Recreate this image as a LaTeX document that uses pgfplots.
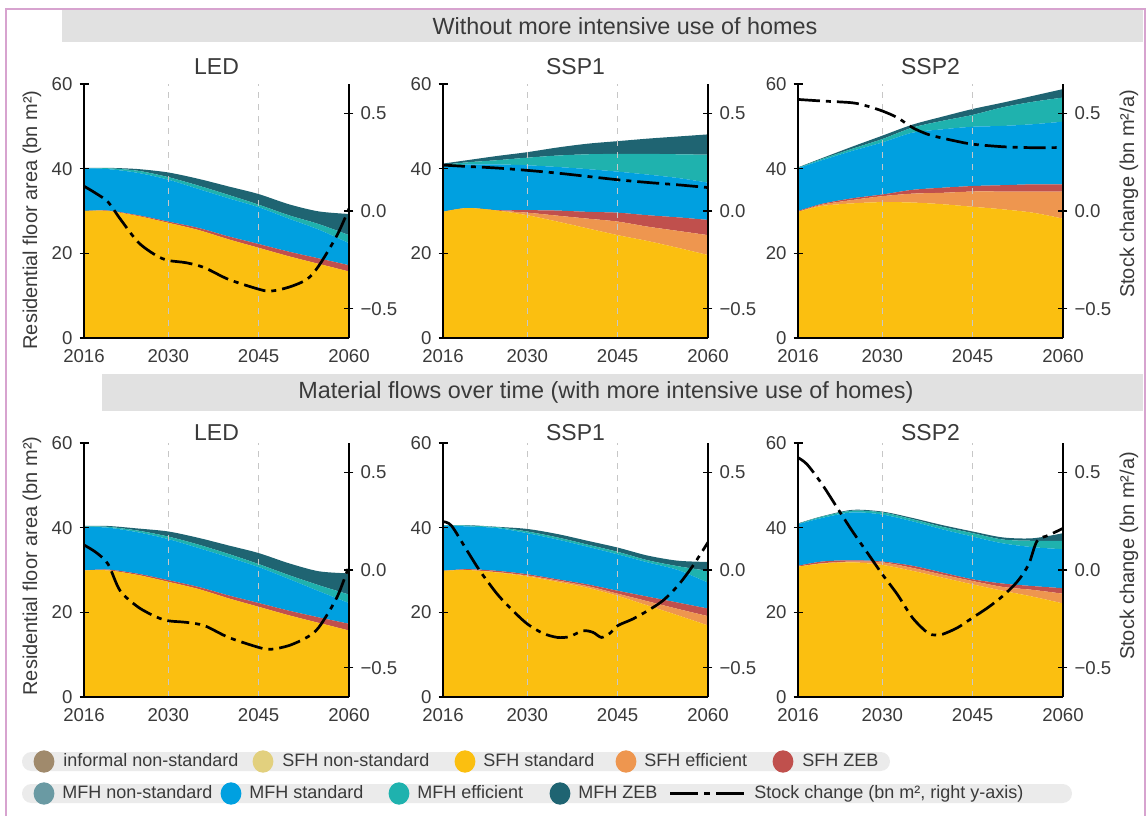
\documentclass[border=0pt]{standalone}
\usepackage{pgfplots}
\pgfplotsset{compat=1.18}
\usepackage{pgfplotstable}
\usepackage{fontspec}
\setmainfont{Liberation Sans}

\definecolor{cInf}{HTML}{A08A6C}
\definecolor{cSFHns}{HTML}{E2D07E}
\definecolor{cSFHs}{HTML}{FBBF10}
\definecolor{cSFHe}{HTML}{EE964F}
\definecolor{cSFHz}{HTML}{C0504D}
\definecolor{cMFHns}{HTML}{6A9AA3}
\definecolor{cMFHs}{HTML}{00A0E0}
\definecolor{cMFHe}{HTML}{1FB2AE}
\definecolor{cMFHz}{HTML}{1F6472}
\definecolor{txt}{HTML}{3A3A3A}
\definecolor{barbg}{HTML}{E1E1E1}
\definecolor{pill}{HTML}{EBEBEB}
\definecolor{framec}{HTML}{D7A3CF}

% floor area by type (bn m2): SFH standard, efficient, ZEB, MFH standard, efficient, ZEB
\pgfplotstableread{
yr yel ora red blu tea dar
2016 30.0 0 0.0 10.1 0.0 0.1
2020 30.0 0 0.1 9.8 0.2 0.1
2025 28.8 0 0.2 10.0 0.5 0.4
2030 27.2 0 0.3 9.9 0.6 1.1
2035 25.5 0 0.5 9.2 0.8 1.6
2040 23.3 0 0.7 9.0 0.8 2.0
2045 21.3 0 0.9 8.7 0.6 2.5
2050 19.3 0 1.1 7.8 0.8 2.6
2055 17.5 0 1.3 6.8 1.3 3.0
2060 15.7 0 1.5 5.2 1.9 5.0
}\aLEDa
\pgfplotstableread{
yr yel ora red blu tea dar
2016 29.8 0.0 0.0 10.7 0.4 0.3
2020 30.7 0.0 0.0 10.3 0.5 0.5
2025 30.1 0.0 0.1 10.8 1.0 1.0
2030 29.0 0.6 0.6 10.6 1.8 1.3
2035 27.5 1.4 1.2 10.3 2.7 1.9
2040 25.9 2.3 1.6 10.1 3.5 2.5
2045 24.3 3.2 2.1 9.7 4.2 3.0
2050 22.9 3.4 2.7 9.6 4.9 3.6
2055 21.3 4.0 3.2 9.3 5.6 4.2
2060 19.6 4.7 3.6 8.8 6.6 4.8
}\aSSPia
\pgfplotstableread{
yr yel ora red blu tea dar
2016 29.8 0.0 0.2 10.1 0.1 0.1
2020 31.2 0.3 0.2 10.3 0.3 0.2
2025 31.8 0.8 0.4 11.2 0.5 0.5
2030 32.1 1.4 0.4 12.3 0.8 0.8
2035 32.0 2.1 0.9 13.5 1.2 0.7
2040 31.6 2.7 1.2 13.8 2.0 1.0
2045 31.0 3.6 1.3 14.0 2.8 1.4
2050 30.4 4.2 1.5 14.0 4.4 1.1
2055 29.6 5.0 1.7 14.2 5.3 1.4
2060 28.2 6.4 1.7 14.8 5.7 2.0
}\aSSPiia
\pgfplotstableread{
yr yel ora red blu tea dar
2016 29.9 0 0.0 10.3 0.1 0.1
2020 29.9 0 0.2 9.9 0.2 0.2
2025 28.8 0 0.3 9.8 0.4 0.5
2030 27.2 0 0.4 9.7 0.6 1.2
2035 25.5 0 0.5 9.2 0.8 1.6
2040 23.3 0 0.7 9.0 0.8 2.0
2045 21.3 0 0.9 8.5 0.7 2.6
2050 19.3 0 1.1 7.5 0.9 2.8
2055 17.5 0 1.3 6.2 1.4 3.3
2060 15.7 0 1.6 4.9 2.0 5.0
}\aLEDb
\pgfplotstableread{
yr yel ora red blu tea dar
2016 29.8 0.0 0.0 10.7 0.1 0.0
2020 30.0 0.0 0.2 10.1 0.2 0.1
2025 29.4 0.1 0.3 10.1 0.2 0.1
2030 28.5 0.2 0.3 9.7 0.4 0.6
2035 27.2 0.3 0.3 9.4 0.5 0.8
2040 25.8 0.4 0.4 8.9 0.5 0.9
2045 23.9 0.5 0.7 8.6 0.6 1.0
2050 21.6 1.0 1.1 8.1 0.5 1.1
2055 19.3 1.5 1.5 7.7 0.9 1.3
2060 16.9 2.2 1.8 6.1 2.8 2.1
}\aSSPib
\pgfplotstableread{
yr yel ora red blu tea dar
2016 30.8 0.0 0.2 9.8 0.1 0.1
2020 31.5 0.1 0.4 10.3 0.3 0.1
2025 31.8 0.2 0.3 11.3 0.4 0.2
2030 31.2 0.6 0.2 11.1 0.5 0.2
2035 29.8 0.7 0.5 10.5 0.5 0.3
2040 28.2 0.7 0.5 10.2 0.6 0.4
2045 26.6 0.8 0.4 10.1 0.8 0.4
2050 25.1 0.9 0.8 9.5 0.9 0.5
2055 23.7 1.6 0.9 9.2 1.5 0.6
2060 22.1 2.3 1.3 9.2 2.0 1.8
}\aSSPiib

% stock change (bn m2/a)
\pgfplotstableread{
yr sc
2016 0.127
2018 0.09
2020 0.046
2022 -0.04
2025 -0.16
2028 -0.228
2030 -0.253
2033 -0.265
2036 -0.29
2040 -0.35
2045 -0.40
2047 -0.41
2050 -0.39
2053 -0.35
2055 -0.28
2058 -0.125
2060 0.012
}\sLEDa
\pgfplotstableread{
yr sc
2016 0.235
2020 0.228
2025 0.22
2030 0.208
2035 0.194
2040 0.177
2045 0.160
2050 0.146
2055 0.134
2060 0.12
}\sSSPia
\pgfplotstableread{
yr sc
2016 0.571
2020 0.563
2025 0.554
2027.5 0.537
2030 0.512
2032.5 0.478
2035 0.427
2037.5 0.393
2040 0.373
2042.5 0.356
2045 0.342
2050 0.329
2055 0.324
2060 0.325
}\sSSPiia
\pgfplotstableread{
yr sc
2016 0.128
2018 0.09
2020 0.03
2022 -0.106
2025 -0.19
2028 -0.24
2030 -0.26
2033 -0.268
2036 -0.285
2040 -0.345
2045 -0.396
2047 -0.406
2050 -0.387
2053 -0.345
2055 -0.293
2058 -0.14
2060 0.022
}\sLEDb
\pgfplotstableread{
yr sc
2016 0.247
2017.4 0.227
2020 0.099
2022.1 -0.003
2025 -0.123
2027.6 -0.208
2030 -0.276
2032.6 -0.324
2035 -0.345
2037 -0.341
2039.2 -0.311
2040.9 -0.319
2042.3 -0.345
2043.7 -0.324
2045 -0.285
2047.5 -0.251
2050 -0.208
2052.5 -0.157
2055 -0.08
2057.5 0.022
2060 0.142
}\sSSPib
\pgfplotstableread{
yr sc
2016 0.575
2017.5 0.541
2020 0.439
2022.5 0.319
2025 0.2
2027.5 0.089
2030 -0.022
2032.5 -0.125
2035 -0.244
2037.5 -0.321
2038.8 -0.333
2040 -0.329
2042.5 -0.295
2045 -0.244
2047.5 -0.193
2050 -0.133
2052.5 -0.056
2054.3 0.029
2055.7 0.148
2057.7 0.179
2060 0.213
}\sSSPiib

\newcommand{\tickfont}{\fontsize{9.3}{11}\selectfont}
\pgfplotsset{
  areaax/.style={
    scale only axis, width=132.5pt, height=127pt, anchor=south west,
    xmin=2016, xmax=2060, ymin=0, ymax=60,
    axis y line*=left, axis x line*=bottom,
    axis line style={black, line width=0.6pt},
    xtick={2016,2030,2045,2060}, xticklabels={2016,2030,2045,2060},
    ytick={0,20,40,60}, yticklabels={0,20,40,60},
    xtick style={draw=none},
    ytick style={black, line width=0.6pt},
    tick align=center, major tick length=4.5pt,
    tick label style={font=\tickfont, text=txt},
    every axis title/.style={font=\fontsize{11.5}{13}\selectfont, text=txt,
      at={(0.5,1)}, anchor=base},
    stack plots=y, axis on top,
  },
  lineax/.style={
    scale only axis, width=132.5pt, height=127pt, anchor=south west,
    xmin=2016, xmax=2060, ymin=-0.65, ymax=0.65,
    axis x line=none, axis y line*=right,
    axis line style={black, line width=0.6pt},
    ytick={-0.5,0,0.5}, yticklabels={−0.5,0.0,0.5},
    ytick style={black, line width=0.6pt},
    tick align=center, major tick length=4.5pt,
    tick label style={font=\tickfont, text=txt},
  },
  stockline/.style={black, line width=1.35pt, smooth,
    dash pattern=on 11pt off 3pt on 2.5pt off 3pt},
  layer/.style={draw=none, smooth},
}

% #1 x, #2 y, #3 area table, #4 stock table, #5 title, #6 title shift
\newcommand{\panel}[6]{%
  \begin{axis}[areaax, at={(#1,#2)}, title={#5}, title style={yshift=#6}]
    \draw[dashed, black!22, line width=0.5pt] (axis cs:2030,0) -- (axis cs:2030,60);
    \draw[dashed, black!22, line width=0.5pt] (axis cs:2045,0) -- (axis cs:2045,60);
    \addplot[layer, fill=cSFHs] table[x=yr, y=yel] {#3} \closedcycle;
    \addplot[layer, fill=cSFHe] table[x=yr, y=ora] {#3} \closedcycle;
    \addplot[layer, fill=cSFHz] table[x=yr, y=red] {#3} \closedcycle;
    \addplot[layer, fill=cMFHs] table[x=yr, y=blu] {#3} \closedcycle;
    \addplot[layer, fill=cMFHe] table[x=yr, y=tea] {#3} \closedcycle;
    \addplot[layer, fill=cMFHz] table[x=yr, y=dar] {#3} \closedcycle;
  \end{axis}
  \begin{axis}[lineax, at={(#1,#2)}]
    \addplot[stockline] table[x=yr, y=sc] {#4};
  \end{axis}}

\newcommand{\legfont}{\fontsize{9}{11}\selectfont}
\newcommand{\hdrfont}{\fontsize{11.7}{13}\selectfont}

\begin{document}
\begin{tikzpicture}
\useasboundingbox (0,0) rectangle (574pt,408pt);

% frame and section headers
\draw[framec, line width=0.8pt] (3pt,0) -- (3pt,403.5pt) -- (572.5pt,403.5pt) -- (572.5pt,0);
\fill[barbg] (31pt,387pt) rectangle (571.5pt,403pt);
\node[font=\hdrfont, text=txt] at (312.5pt,395pt) {Without more intensive use of homes};
\fill[barbg] (51pt,202.5pt) rectangle (571.5pt,221pt);
\node[font=\hdrfont, text=txt] at (303pt,211.75pt) {Material flows over time (with more intensive use of homes)};

% panels
\panel{42pt}{239pt}{\aLEDa}{\sLEDa}{LED}{5pt}
\panel{221.5pt}{239pt}{\aSSPia}{\sSSPia}{SSP1}{5pt}
\panel{399pt}{239pt}{\aSSPiia}{\sSSPiia}{SSP2}{5pt}
\panel{42pt}{59.5pt}{\aLEDb}{\sLEDb}{LED}{1.5pt}
\panel{221.5pt}{59.5pt}{\aSSPib}{\sSSPib}{SSP1}{1.5pt}
\panel{399pt}{59.5pt}{\aSSPiib}{\sSSPiib}{SSP2}{1.5pt}

% axis titles
\node[rotate=90, font=\fontsize{10}{12}\selectfont, text=txt] at (16pt,298pt) {Residential floor area (bn m²)};
\node[rotate=90, font=\fontsize{10}{12}\selectfont, text=txt] at (16pt,125pt) {Residential floor area (bn m²)};
\node[rotate=90, font=\fontsize{10}{12}\selectfont, text=txt] at (564.5pt,311pt) {Stock change (bn m²/a)};
\node[rotate=90, font=\fontsize{10}{12}\selectfont, text=txt] at (564.5pt,130pt) {Stock change (bn m²/a)};

% legend
\fill[pill, rounded corners=4.7pt] (11pt,22.5pt) rectangle (445pt,32pt);
\fill[pill, rounded corners=4.7pt] (11pt,6.5pt) rectangle (536pt,16pt);
\begin{scope}[every node/.style={anchor=mid west, inner sep=0pt, font=\legfont, text=txt}]
\fill[cInf]  (22pt,27.25pt) ellipse (5.2pt and 5.6pt);   \node at (31.5pt,27.25pt) {informal non-standard};
\fill[cSFHns](131.5pt,27.25pt) ellipse (5.2pt and 5.6pt); \node at (141pt,27.25pt) {SFH non-standard};
\fill[cSFHs] (232.5pt,27.25pt) ellipse (5.2pt and 5.6pt); \node at (241.5pt,27.25pt) {SFH standard};
\fill[cSFHe] (313pt,27.25pt) ellipse (5.2pt and 5.6pt);   \node at (322pt,27.25pt) {SFH efficient};
\fill[cSFHz] (391.5pt,27.25pt) ellipse (5.2pt and 5.6pt); \node at (401pt,27.25pt) {SFH ZEB};
\fill[cMFHns](22pt,11.25pt) ellipse (5.2pt and 5.6pt);    \node at (31pt,11.25pt) {MFH non-standard};
\fill[cMFHs] (115.5pt,11.25pt) ellipse (5.2pt and 5.6pt); \node at (124.5pt,11.25pt) {MFH standard};
\fill[cMFHe] (199.5pt,11.25pt) ellipse (5.2pt and 5.6pt); \node at (208.5pt,11.25pt) {MFH efficient};
\fill[cMFHz] (280pt,11.25pt) ellipse (5.2pt and 5.6pt);   \node at (289pt,11.25pt) {MFH ZEB};
\draw[black, line width=1.3pt, dash pattern=on 14pt off 3pt on 3pt off 3pt] (335pt,11.25pt) -- (373.5pt,11.25pt);
\node at (377pt,11.25pt) {Stock change (bn m², right y-axis)};
\end{scope}
\end{tikzpicture}
\end{document}
